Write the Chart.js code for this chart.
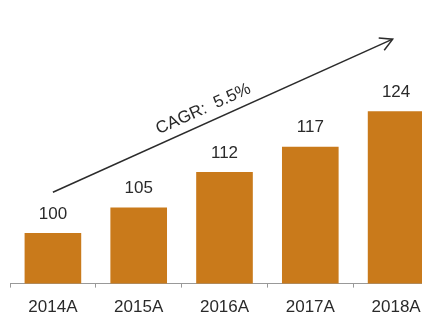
<!DOCTYPE html>
<html>
<head>
<meta charset="utf-8">
<script src="https://cdn.jsdelivr.net/npm/chart.js@4"></script>
<style>
  html, body { margin: 0; padding: 0; background: #fff; }
  #wrap { width: 422px; height: 317px; overflow: hidden; position: relative; }
  #box { width: 440px; height: 328px; position: absolute; left: 0; top: 0; }
</style>
</head>
<body>
<div id="wrap"><div id="box"><canvas id="barChart"></canvas></div></div>
<script>
const years = ['2014A', '2015A', '2016A', '2017A', '2018A'];
const revenue = [100, 105, 112, 117, 124];
const cagrText = 'CAGR:  5.5%';
// arrow ends in data units (category index, value)
const arrowFrom = [0, 108];
const arrowTo = [3.96, 138.2];

const barColor = '#C97A1B';
const textColor = '#2a2a2a';
const font = "'Liberation Sans', Arial, sans-serif";

const valueLabels = {
    id: 'valueLabels',
    afterDatasetsDraw(chart) {
        const ctx = chart.ctx;
        const meta = chart.getDatasetMeta(0);
        ctx.save();
        ctx.fillStyle = textColor;
        ctx.font = '17px ' + font;
        ctx.textAlign = 'center';
        ctx.textBaseline = 'middle';
        meta.data.forEach((bar, i) => {
            ctx.fillText(String(revenue[i]), bar.x, bar.y - 19);
        });
        ctx.restore();
    }
};

const cagrArrow = {
    id: 'cagrArrow',
    afterDraw(chart) {
        const ctx = chart.ctx;
        const x = chart.scales.x, y = chart.scales.y;
        const x1 = x.getPixelForValue(arrowFrom[0]), y1 = y.getPixelForValue(arrowFrom[1]);
        const x2 = x.getPixelForValue(arrowTo[0]), y2 = y.getPixelForValue(arrowTo[1]);
        const ang = Math.atan2(y2 - y1, x2 - x1);
        ctx.save();
        ctx.strokeStyle = '#2b2b2b';
        ctx.lineWidth = 1.5;
        ctx.beginPath();
        ctx.moveTo(x1, y1);
        ctx.lineTo(x2, y2);
        ctx.stroke();
        // open arrow head
        const len = 14, spread = 0.5;
        ctx.beginPath();
        ctx.moveTo(x2 - len * Math.cos(ang - spread), y2 - len * Math.sin(ang - spread));
        ctx.lineTo(x2, y2);
        ctx.lineTo(x2 - len * Math.cos(ang + spread), y2 - len * Math.sin(ang + spread));
        ctx.stroke();
        // label along the line
        const t = 0.46;
        const mx = x1 + (x2 - x1) * t, my = y1 + (y2 - y1) * t;
        ctx.translate(mx, my);
        ctx.rotate(ang);
        ctx.fillStyle = textColor;
        ctx.font = '17px ' + font;
        ctx.textAlign = 'center';
        ctx.textBaseline = 'middle';
        ctx.fillText(cagrText, 0, -14);
        ctx.restore();
    }
};

const ctx = document.getElementById('barChart').getContext('2d');
const myChart = new Chart(ctx, {
    type: 'bar',
    data: {
        labels: years,
        datasets: [{
            data: revenue,
            backgroundColor: barColor,
            borderWidth: 0,
            categoryPercentage: 0.66,
            barPercentage: 1
        }]
    },
    options: {
        responsive: true,
        maintainAspectRatio: false,
        animation: false,
        layout: { padding: { left: 10, right: 1, top: 30, bottom: 0 } },
        plugins: {
            legend: { display: false },
            tooltip: { enabled: false }
        },
        scales: {
            x: {
                grid: {
                    drawOnChartArea: false,
                    drawTicks: true,
                    tickLength: 4,
                    color: '#999'
                },
                border: { color: '#999', width: 1 },
                ticks: {
                    color: textColor,
                    padding: 10,
                    font: { size: 17, family: font }
                }
            },
            y: {
                display: false,
                min: 90,
                max: 140
            }
        }
    },
    plugins: [valueLabels, cagrArrow]
});
</script>
</body>
</html>
